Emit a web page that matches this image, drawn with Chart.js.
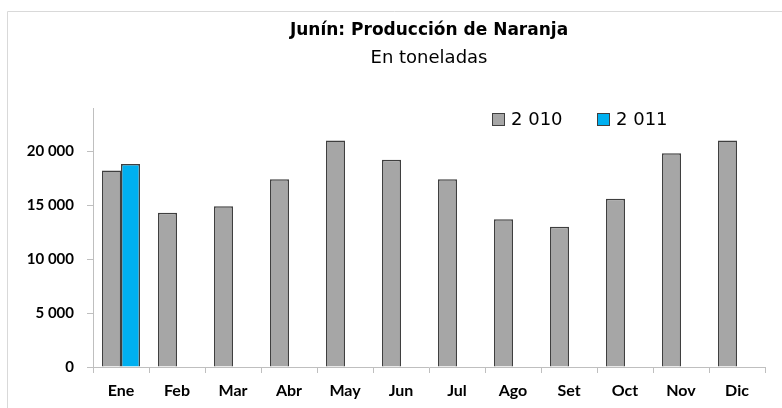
<!DOCTYPE html>
<html>
<head>
<meta charset="utf-8">
<script src="https://cdn.jsdelivr.net/npm/chart.js@4"></script>
<style>
  html, body { margin: 0; padding: 0; background: #fff; }
  #wrap { position: relative; width: 782px; height: 408px; }
</style>
</head>
<body>
<div id="wrap"><canvas id="chartNaranja"></canvas></div>
<script>
// Datos: producción mensual de naranja en Junín (toneladas)
const meses = ['Ene', 'Feb', 'Mar', 'Abr', 'May', 'Jun', 'Jul', 'Ago', 'Set', 'Oct', 'Nov', 'Dic'];
const prod2010 = [18200, 14300, 14900, 17400, 21000, 19200, 17400, 13700, 13000, 15600, 19800, 21000];
const prod2011 = [18800, null, null, null, null, null, null, null, null, null, null, null];
const ticksY = [0, 5000, 10000, 15000, 20000];

const FONT_EJES = 'Lato, "Open Sans", sans-serif';
const FONT_TIT = '"DejaVu Sans", sans-serif';
const EJE = '#bfbfbf';

// borde del gráfico (sólo se ven arriba e izquierda) + leyenda dentro del área
const decoracion = {
  id: 'decoracion',
  beforeDraw(chart) {
    const c = chart.ctx;
    c.save();
    c.strokeStyle = '#d9d9d9';
    c.lineWidth = 1;
    c.beginPath();
    c.moveTo(7.5, 408);
    c.lineTo(7.5, 11.5);
    c.lineTo(782, 11.5);
    c.stroke();
    c.restore();
  },
  afterDraw(chart) {
    const c = chart.ctx;
    const pos = [492, 597];
    c.save();
    c.font = '18px ' + FONT_TIT;
    c.textBaseline = 'middle';
    chart.data.datasets.forEach((ds, i) => {
      const x = pos[i];
      c.fillStyle = ds.backgroundColor;
      c.strokeStyle = '#3f3f3f';
      c.lineWidth = 1;
      c.fillRect(x + 0.5, 113.5, 12, 12);
      c.strokeRect(x + 0.5, 113.5, 12, 12);
      c.fillStyle = '#000';
      c.fillText(ds.label, x + 19, 120);
    });
    c.restore();
  }
};

new Chart(document.getElementById('chartNaranja'), {
  type: 'bar',
  data: {
    labels: meses,
    datasets: [
      { label: '2 010', data: prod2010, backgroundColor: '#a6a6a6', borderColor: '#3f3f3f', borderWidth: 1.5 },
      { label: '2 011', data: prod2011, backgroundColor: '#00b0f0', borderColor: '#3f3f3f', borderWidth: 1.5 }
    ]
  },
  options: {
    responsive: true,
    maintainAspectRatio: false,
    animation: false,
    categoryPercentage: 0.68,
    barPercentage: 1,
    layout: { padding: { left: 0, right: 17, top: 12, bottom: 0 } },
    plugins: {
      legend: { display: false },
      tooltip: { enabled: false },
      title: {
        display: true,
        fullSize: false,
        text: 'Junín: Producción de Naranja',
        color: '#000',
        font: { family: FONT_TIT, size: 17, weight: 'bold', lineHeight: 1.2 },
        padding: { top: 8, bottom: 0 }
      },
      subtitle: {
        display: true,
        fullSize: false,
        text: 'En toneladas',
        color: '#000',
        font: { family: FONT_TIT, size: 18, weight: 'normal', lineHeight: 1.2 },
        padding: { top: 7, bottom: 39 }
      }
    },
    scales: {
      x: {
        grid: { offset: true, drawOnChartArea: false, drawTicks: true, tickLength: 6, color: EJE },
        border: { color: EJE },
        ticks: { color: '#000', padding: 8, font: { family: FONT_EJES, size: 16, weight: 'bold' } },
        afterFit: s => { s.height = 41; }
      },
      y: {
        min: 0,
        max: 24000,
        grid: { drawOnChartArea: false, drawTicks: true, tickLength: 6, color: EJE },
        border: { color: EJE },
        ticks: {
          color: '#000',
          padding: 13,
          stepSize: 5000,
          font: { family: FONT_EJES, size: 15, weight: 'bold' },
          callback: v => String(v).replace(/\B(?=(\d{3})+(?!\d))/g, ' ')
        },
        afterBuildTicks: s => { s.ticks = ticksY.map(v => ({ value: v })); },
        afterFit: s => { s.width = 93; }
      }
    }
  },
  plugins: [decoracion]
});
</script>
</body>
</html>
